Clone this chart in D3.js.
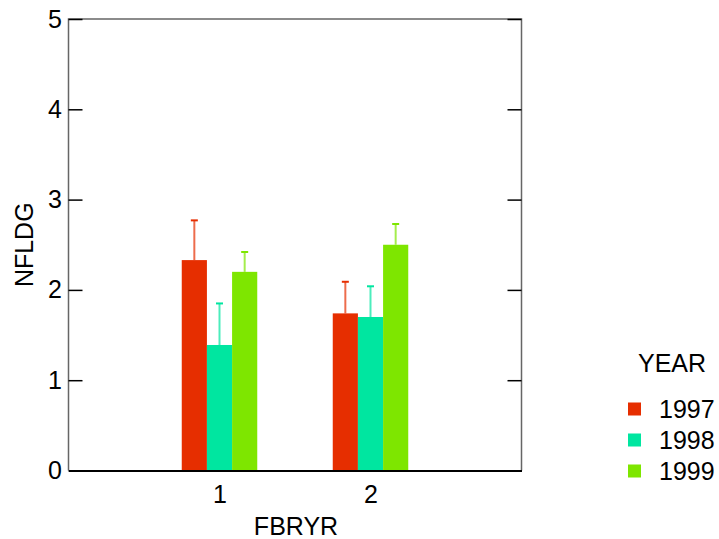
<!DOCTYPE html>
<html>
<head>
<meta charset="utf-8">
<script src="https://cdn.jsdelivr.net/npm/d3@7"></script>
<style>
body{margin:0;background:#fff}
text{font-family:"Liberation Sans",Arial,sans-serif;fill:#000}
</style>
</head>
<body>
<div id="chart"></div>
<script>
const categories = [1, 2]
const years = ["1997", "1998", "1999"]
const colors = ["#e62e00", "#00e6a0", "#7ee600"]
// means per year, one value per category
const means = {
    "1997": [2.33, 1.74],
    "1998": [1.39, 1.70],
    "1999": [2.20, 2.50]
}
// upper end of error bar
const upper = {
    "1997": [2.77, 2.09],
    "1998": [1.85, 2.04],
    "1999": [2.42, 2.73]
}
const yTicks = [0, 1, 2, 3, 4, 5]

function translate(x,y){return `translate(${x}, ${y})`}

const svgWidth = 719, svgHeight = 539
const pLeft = 68.5, pTop = 19, pRight = 521.5, pBottom = 470.5

const svg = d3.select("#chart").append("svg").attr("width", svgWidth).attr("height", svgHeight)

const xScale = d3.scaleLinear().domain([0, 3]).range([pLeft, pRight])
const yScale = d3.scaleLinear().domain([0, 5]).range([pBottom, pTop])
const barW = xScale(1/6) - xScale(0)

let bars = []
years.forEach(function(yr, i){
    categories.forEach(function(c, j){
        bars.push({"year":yr, "i":i, "cat":c, "val":means[yr][j], "hi":upper[yr][j]})
    })
})

const barArea = svg.append("g")
barArea.selectAll("rect").data(bars).enter().append("rect")
    .attr("x", d=>xScale(d.cat - 0.25 + d.i/6))
    .attr("y", d=>yScale(d.val))
    .attr("width", barW)
    .attr("height", d=>yScale(0)-yScale(d.val))
    .attr("fill", d=>colors[d.i])

// error bars
const err = svg.append("g")
err.selectAll("line.v").data(bars).enter().append("line")
    .attr("x1", d=>xScale(d.cat - 0.25 + (d.i+0.5)/6))
    .attr("x2", d=>xScale(d.cat - 0.25 + (d.i+0.5)/6))
    .attr("y1", d=>yScale(d.val))
    .attr("y2", d=>yScale(d.hi))
    .attr("stroke", d=>colors[d.i]).attr("stroke-opacity", 0.7).attr("stroke-width", 2)
err.selectAll("line.c").data(bars).enter().append("line")
    .attr("x1", d=>xScale(d.cat - 0.25 + (d.i+0.5)/6)-3.5)
    .attr("x2", d=>xScale(d.cat - 0.25 + (d.i+0.5)/6)+3.5)
    .attr("y1", d=>yScale(d.hi))
    .attr("y2", d=>yScale(d.hi))
    .attr("stroke", d=>colors[d.i]).attr("stroke-width", 2)

// frame
svg.append("path").attr("d", `M${pLeft},${pBottom}V${pTop}H${pRight}V${pBottom}`)
    .attr("stroke","#666").attr("stroke-width",1.5).attr("fill","none")

// y axis, ticks inside
const yAxis = svg.append("g").attr("transform", translate(pLeft, 0))
    .call(d3.axisLeft(yScale).tickValues(yTicks).tickSizeInner(-14).tickSizeOuter(0).tickPadding(6.5).tickFormat(d3.format("d")))
yAxis.select(".domain").remove()
yAxis.selectAll(".tick line").attr("stroke","#000").attr("stroke-width",1.5)
yAxis.selectAll("text").attr("font-size",25).attr("font-family","Liberation Sans, Arial, sans-serif")

const yAxisR = svg.append("g").attr("transform", translate(pRight, 0))
    .call(d3.axisRight(yScale).tickValues(yTicks).tickSizeInner(-14).tickSizeOuter(0).tickFormat(""))
yAxisR.select(".domain").remove()
yAxisR.selectAll(".tick line").attr("stroke","#000").attr("stroke-width",1.5)

// x axis
const xAxis = svg.append("g").attr("transform", translate(0, pBottom))
    .call(d3.axisBottom(xScale).tickValues(categories).tickSize(0).tickPadding(15).tickFormat(d3.format("d")))
xAxis.select(".domain").attr("stroke","#000").attr("stroke-width",2)
xAxis.selectAll("text").attr("font-size",25).attr("font-family","Liberation Sans, Arial, sans-serif")

svg.append("text").attr("x", 296).attr("y", 535)
    .attr("text-anchor","middle").attr("font-size",25).text("FBRYR")
svg.append("text").attr("transform", translate(33, (pTop+pBottom)/2) + " rotate(-90)")
    .attr("text-anchor","middle").attr("font-size",25).text("NFLDG")

// legend
const legend = svg.append("g")
legend.append("text").attr("x", 672).attr("y", 372).attr("text-anchor","middle").attr("font-size",25).text("YEAR")
const rows = legend.selectAll("g.row").data(years).enter().append("g")
    .attr("transform", (d,i)=>translate(628, 409 + i*31))
rows.append("rect").attr("x",0).attr("y",-6.5).attr("width",13).attr("height",13).attr("fill",(d,i)=>colors[i])
rows.append("text").attr("x",31).attr("y",9).attr("font-size",25).text(d=>d)
</script>
</body>
</html>
